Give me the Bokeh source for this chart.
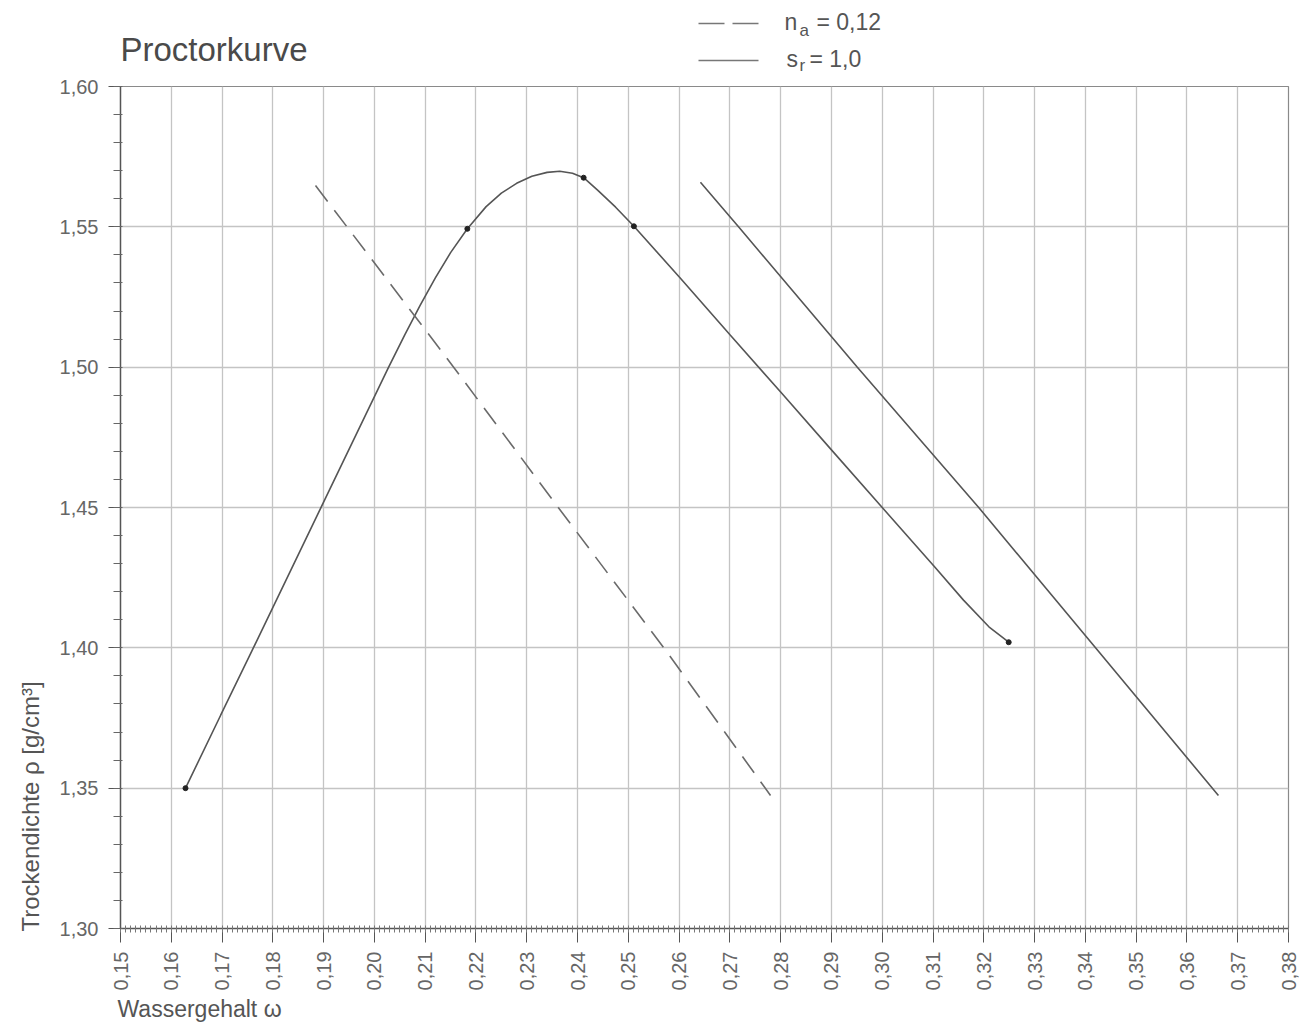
import math
from bokeh.plotting import figure
from bokeh.layouts import column
from bokeh.models import Range1d, FixedTicker, CustomJSTickFormatter, Label, Title
from bokeh.embed import file_html
from bokeh.resources import INLINE

# ---------------- data ----------------
curve_w = [0.1628, 0.1697, 0.1759, 0.1894, 0.2028, 0.2060, 0.2090, 0.2120, 0.2150,
           0.2183, 0.2220, 0.2250, 0.2280, 0.2310, 0.2340, 0.2365, 0.2390, 0.2412,
           0.2440, 0.2475, 0.2511, 0.2603, 0.2701, 0.2803, 0.2903, 0.3003, 0.3103,
           0.3160, 0.3210, 0.3249]
curve_rho = [1.3500, 1.3759, 1.3990, 1.4497, 1.5000, 1.5116, 1.5220, 1.5318, 1.5408,
             1.5493, 1.5572, 1.5620, 1.5655, 1.5680, 1.5694, 1.5698, 1.5691, 1.5675,
             1.5630, 1.5570, 1.5502, 1.5316, 1.5114, 1.4905, 1.4699, 1.4494, 1.4289,
             1.4170, 1.4075, 1.4020]

meas_w = [0.1628, 0.2183, 0.2412, 0.2511, 0.3249]
meas_rho = [1.3500, 1.5493, 1.5675, 1.5502, 1.4020]

na_w = [0.1884, 0.1946, 0.2156, 0.2362, 0.2570, 0.2780]
na_rho = [1.5647, 1.5500, 1.5000, 1.4500, 1.4000, 1.3474]

sr_w = [0.2642, 0.2717, 0.2951, 0.3190, 0.3420, 0.3662]
sr_rho = [1.5659, 1.5500, 1.5000, 1.4500, 1.4000, 1.3474]

x_ticks = [0.15, 0.16, 0.17, 0.18, 0.19, 0.20, 0.21, 0.22, 0.23, 0.24, 0.25, 0.26,
           0.27, 0.28, 0.29, 0.30, 0.31, 0.32, 0.33, 0.34, 0.35, 0.36, 0.37, 0.38]
y_ticks = [1.30, 1.35, 1.40, 1.45, 1.50, 1.55, 1.60]

legend_labels = [("n", "a", "= 0,12"), ("s", "r", "= 1,0")]
title_text = "Proctorkurve"
x_title = "Wassergehalt \u03c9"
y_title = "Trockendichte \u03c1  [g/cm\u00b3]"

X0, X1 = 0.15, 0.38
Y0, Y1 = 1.30, 1.60

FONT = "Liberation Sans"
TXT = "#555555"

HEADER_H = 76
TOTAL_W = 1300
MAIN_H = 948
FRAME_L, FRAME_R = 120, 1288   # page pixels of the plotting frame (header frame aligns to it)


def lab(f, text, x, y, size, color=TXT, align="left", baseline="top", angle=0.0):
    f.add_layout(Label(x=x, y=y, text=text, text_font=FONT, text_font_size=size,
                       text_color=color, text_align=align, text_baseline=baseline,
                       angle=angle))


# ---------------- header: title + legend ----------------
hdr = figure(width=TOTAL_W, height=HEADER_H, output_backend="svg", toolbar_location=None,
             x_axis_type=None, y_axis_type=None,
             x_range=Range1d(FRAME_L, FRAME_R), y_range=Range1d(HEADER_H, 0),
             min_border=0, min_border_left=FRAME_L, min_border_right=TOTAL_W - FRAME_R,
             min_border_top=0, min_border_bottom=0)
hdr.outline_line_color = None
hdr.background_fill_color = "white"
hdr.border_fill_color = "white"
hdr.grid.visible = False

lab(hdr, title_text, 120, 30, "33px", color="#4a4a4a")
hdr.line([698, 758], [23, 23], line_color="#777777", line_width=1.4, line_dash="26 8")
hdr.line([698, 758], [60, 60], line_color="#777777", line_width=1.4)
lab(hdr, legend_labels[0][0], 784, 8, "23px")
lab(hdr, legend_labels[0][1], 799, 20, "17px")
lab(hdr, legend_labels[0][2], 816, 8, "23px")
lab(hdr, legend_labels[1][0], 786, 45, "23px")
lab(hdr, legend_labels[1][1], 799, 55, "17px")
lab(hdr, legend_labels[1][2], 809, 45, "23px")

# ---------------- main chart ----------------
p = figure(width=TOTAL_W, height=MAIN_H, output_backend="svg", toolbar_location=None,
           x_range=Range1d(X0, X1), y_range=Range1d(Y0, Y1),
           min_border_left=FRAME_L, min_border_right=TOTAL_W - FRAME_R, min_border_top=10,
           min_border_bottom=96)
p.background_fill_color = "white"
p.border_fill_color = "white"
p.outline_line_color = "#8a8a8a"
p.outline_line_width = 1.2

x_minor = [round(X0 + 0.001 * i, 3) for i in range(int(round((X1 - X0) / 0.001)) + 1)]
y_minor = [round(Y0 + 0.01 * i, 2) for i in range(31)]

xax = p.xaxis[0]
xax.ticker = FixedTicker(ticks=x_ticks, minor_ticks=x_minor)
xax.formatter = CustomJSTickFormatter(code="return tick.toFixed(2).replace('.', ',');")
xax.major_label_orientation = math.pi / 2
xax.major_label_text_font = FONT
xax.major_label_text_font_size = "20px"
xax.major_label_text_color = "#666666"
xax.major_label_standoff = 9
xax.major_tick_out = 14
xax.major_tick_in = 2
xax.minor_tick_out = 4
xax.minor_tick_in = 3
xax.axis_line_color = "#555555"
xax.major_tick_line_color = "#555555"
xax.minor_tick_line_color = "#777777"
xax.axis_line_width = 1.4

yax = p.yaxis[0]
yax.ticker = FixedTicker(ticks=y_ticks, minor_ticks=y_minor)
yax.formatter = CustomJSTickFormatter(code="return tick.toFixed(2).replace('.', ',');")
yax.major_label_text_font = FONT
yax.major_label_text_font_size = "20px"
yax.major_label_text_color = "#666666"
yax.major_label_standoff = 10
yax.major_tick_out = 12
yax.major_tick_in = 0
yax.minor_tick_out = 7
yax.minor_tick_in = 2
yax.axis_line_color = "#555555"
yax.major_tick_line_color = "#555555"
yax.minor_tick_line_color = "#666666"
yax.axis_line_width = 1.4

p.xgrid.ticker = FixedTicker(ticks=x_ticks)
p.ygrid.ticker = FixedTicker(ticks=y_ticks)
p.xgrid.grid_line_color = "#c4c4c4"
p.ygrid.grid_line_color = "#c4c4c4"
p.xgrid.grid_line_width = 1.3
p.ygrid.grid_line_width = 1.3

# axis titles as side-panel titles (start-aligned like the reference)
p.add_layout(Title(text=x_title, align="left", text_font=FONT, text_font_size="23px",
                   text_font_style="normal", text_color=TXT, standoff=1, offset=-3), "below")
p.add_layout(Title(text=y_title, align="left", text_font=FONT, text_font_size="24px",
                   text_font_style="normal", text_color=TXT, standoff=25, offset=-3), "left")

p.line(curve_w, curve_rho, line_color="#555555", line_width=1.6)
p.line(na_w, na_rho, line_color="#6a6a6a", line_width=1.6, line_dash="20 11")
p.line(sr_w, sr_rho, line_color="#555555", line_width=1.6)
p.scatter(meas_w, meas_rho, size=5, fill_color="#222222", line_color="#222222")

layout = column(hdr, p)
open("out.html", "w").write(file_html(layout, INLINE))
